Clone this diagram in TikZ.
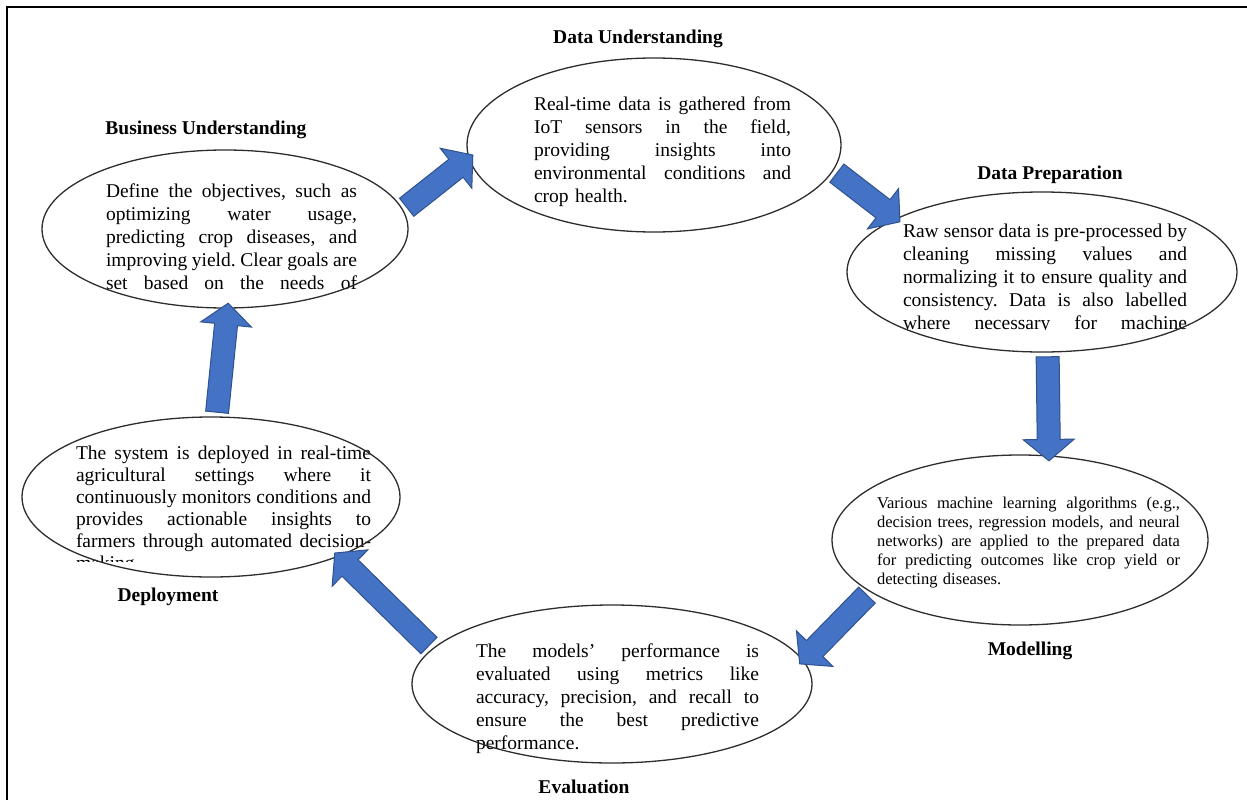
\documentclass[tikz,border=0pt]{standalone}
\usepackage{fontspec}
\setmainfont{Liberation Serif}
\usetikzlibrary{shapes.geometric,shapes.arrows,calc}
\frenchspacing

\definecolor{flowfill}{RGB}{68,114,196}
\definecolor{flowedge}{RGB}{47,82,143}
\definecolor{ringline}{RGB}{45,45,45}

\newlength\stagew
\tikzset{every picture/.style={line width=1.2pt}}
\tikzset{
  stage/.style={ellipse, draw=ringline, line width=1.3pt, inner sep=0pt, outer sep=0pt},
  stagetxt/.style={inner sep=0pt, align=left, text width=#1,
    execute at begin node={\setlength\stagew{#1}}, font=\fontsize{19.5}{23}\selectfont},
  stagelbl/.style={inner sep=0pt, font=\fontsize{19.5}{23}\selectfont\bfseries},
  flow/.style={single arrow, draw=flowedge, fill=flowfill, line width=1pt,
    inner xsep=0pt, inner ysep=11pt, outer sep=0pt,
    single arrow head extend=14pt, single arrow tip angle=100, single arrow head indent=0pt}
}
% justified line of given width
\newcommand\jlast[1]{\makebox[\stagew][s]{\spaceskip=\fontdimen2\font plus 1fil minus \fontdimen4\font\relax #1}}
\newcommand\jl[1]{\jlast{#1}\\}
\newcommand\flowarrow[2]{%
  \path let \p1=(#1), \p2=(#2), \n1={atan2(\y2-\y1,\x2-\x1)}, \n2={veclen(\x2-\x1,\y2-\y1)} in
    node[flow, rotate=-\n1, minimum height=\n2] at ($(\p1)!0.5!(\p2)$) {};}

\begin{document}
\begin{tikzpicture}[x=1pt,y=1pt,yscale=-1,xscale=1]
	\useasboundingbox (0,0) rectangle (1247,800);

	%Frame: top and left edge only
	\draw [line width=1.5]  (7,800) -- (7,7) -- (1247,7) ;

	% Text Node
	\node [stagetxt=251pt] (businesstxt) at (231.5,237) {\jl{Define the objectives, such as}\jl{optimizing water usage,}\jl{predicting crop diseases, and}\jl{improving yield. Clear goals are}\jlast{set based on the needs of}};
	% Text Node
	\node [stagetxt=257pt] (dataundtxt) at (662.5,152) {\jl{Real-time data is gathered from}\jl{IoT sensors in the field,}\jl{providing insights into}\jl{environmental conditions and}crop health.};
	% Text Node
	\begin{scope}
	\clip (880,200) rectangle (1210,329);
	\node [stagetxt=284pt] (dataprepttxt) at (1045,278.5) {\jl{Raw sensor data is pre-processed by}\jl{cleaning missing values and}\jl{normalizing it to ensure quality and}\jl{consistency. Data is also labelled}\jlast{where necessary for machine}};
	\end{scope}
	% Text Node
	\node [stagetxt=303pt, font=\fontsize{16.5}{19}\selectfont] (modellingtxt) at (1028.5,543) {\jl{Various machine learning algorithms (e.g.,}\jl{decision trees, regression models, and neural}\jl{networks) are applied to the prepared data}\jl{for predicting outcomes like crop yield or}detecting diseases.};
	% Text Node
	\node [stagetxt=283pt] (evaluationtxt) at (617.5,698.5) {\jl{The models' performance is}\jl{evaluated using metrics like}\jl{accuracy, precision, and recall to}\jl{ensure the best predictive}performance.};
	% Text Node
	\begin{scope}
	\clip (50,430) rectangle (400,561);
	\node [stagetxt=295pt, font=\fontsize{19.5}{22}\selectfont] (deploymenttxt) at (223.5,510) {\jl{The system is deployed in real-time}\jl{agricultural settings where it}\jl{continuously monitors conditions and}\jl{provides actionable insights to}\jl{farmers through automated decision-}making.};
	\end{scope}

	%Shape: Ellipse
	\node [stage, minimum width=366pt, minimum height=158pt] (business) at (225,229) {};
	%Shape: Ellipse
	\node [stage, minimum width=374pt, minimum height=174pt] (dataund) at (654,145) {};
	%Shape: Ellipse
	\node [stage, minimum width=390pt, minimum height=160pt] (dataprep) at (1042,272) {};
	%Shape: Ellipse
	\node [stage, minimum width=376pt, minimum height=170pt] (modelling) at (1020,540) {};
	%Shape: Ellipse
	\node [stage, minimum width=400pt, minimum height=158pt] (evaluation) at (612,684) {};
	%Shape: Ellipse
	\node [stage, minimum width=378pt, minimum height=160pt] (deployment) at (211,497) {};

	% Text Node
	\node [stagelbl] (businesslbl) at (206,130) {Business Understanding};
	% Text Node
	\node [stagelbl] (dataundlbl) at (638,39) {Data Understanding};
	% Text Node
	\node [stagelbl] (dataprelbl) at (1050,175) {Data Preparation};
	% Text Node
	\node [stagelbl] (modellinglbl) at (1030,651) {Modelling};
	% Text Node
	\node [stagelbl] (evaluationlbl) at (584,787) {Evaluation};
	% Text Node
	\node [stagelbl] (deploymentlbl) at (168,597) {Deployment};

	%Block Arrows
	\flowarrow{business.6}{dataund.184}
	\flowarrow{dataund.-8}{dataprep.160}
	\flowarrow{dataprep.-86}{modelling.71}
	\flowarrow{modelling.199}{evaluation.7}
	\flowarrow{evaluation.169}{deployment.-25.5}
	\flowarrow{deployment.86}{business.-88}

\end{tikzpicture}
\end{document}
